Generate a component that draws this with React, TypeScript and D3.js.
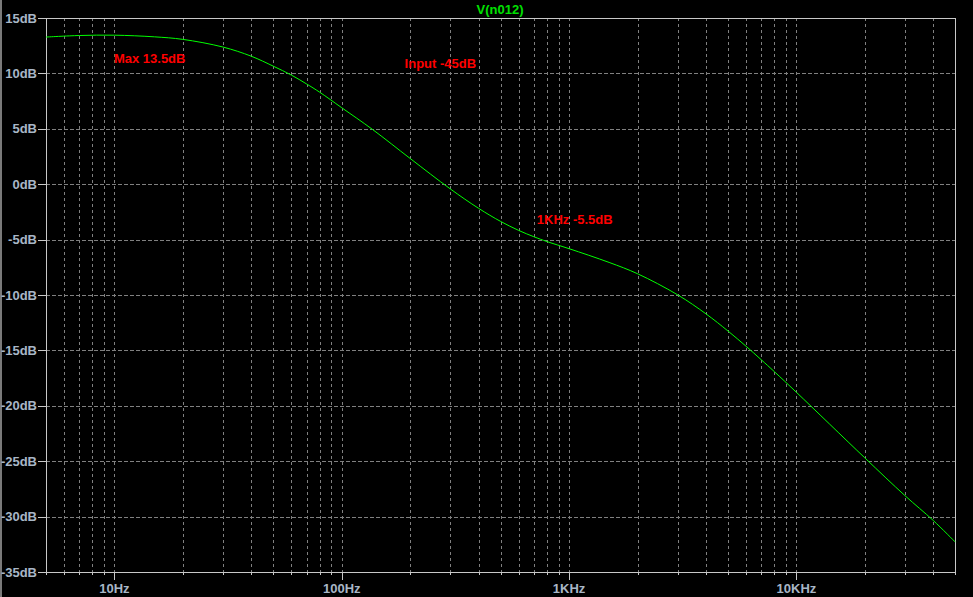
import React from "react";
import * as d3 from "d3";

const freqs = [5, 7, 10, 15, 20, 30, 40, 50, 60, 70, 80, 100, 137, 200, 300, 400, 500, 600, 700, 800, 1000, 1500, 2000, 3000, 4000, 5000, 6000, 7000, 8000, 10000, 20000, 30000, 40000, 50000];
const gainDb = [13.28, 13.42, 13.45, 13.3, 13.07, 12.38, 11.55, 10.65, 9.85, 9.05, 8.3, 6.9, 4.92, 2.32, -0.42, -2.18, -3.36, -4.17, -4.74, -5.18, -5.82, -7.06, -8.08, -9.98, -11.7, -13.25, -14.62, -15.84, -16.92, -18.78, -24.7, -28.1, -30.35, -32.3];

const yTicks = [15, 10, 5, 0, -5, -10, -15, -20, -25, -30, -35];
const yTickLabels = ["15dB", "10dB", "5dB", "0dB", "-5dB", "-10dB", "-15dB", "-20dB", "-25dB", "-30dB", "-35dB"];
const xMajor = [10, 100, 1000, 10000];
const xMajorLabels = ["10Hz", "100Hz", "1KHz", "10KHz"];

const title = "V(n012)";
const annotations = [
  { text: "Max 13.5dB", f: 9.95, db: 10.94 },
  { text: "Input -45dB", f: 189, db: 10.45 },
  { text: "1KHz -5.5dB", f: 721, db: -3.6 },
];

const W = 973;
const H = 597;
const left = 46;
const right = 955.3;
const top = 18;
const bottom = 572;

export default function App() {
  const x = d3.scaleLog().domain([5, 50000]).range([left, right]);
  const y = d3.scaleLinear().domain([-35, 15]).range([bottom, top]);

  const minor: number[] = [];
  for (let dec = 1; dec <= 10000; dec *= 10) {
    for (let m = 2; m <= 9; m++) {
      const v = m * dec;
      if (v >= 5 && v <= 50000) minor.push(v);
    }
  }
  const gridX = minor.concat(xMajor).filter((v) => v > 5 && v < 50000);

  const line = d3
    .line<number>()
    .x((_, i) => x(freqs[i]))
    .y((d) => y(d))
    .curve(d3.curveCatmullRom.alpha(0.5));

  const font = "'Liberation Sans', Arial, sans-serif";
  const labelColor = "#a8b6c6";
  const frameColor = "#c8c8c8";
  const gridColor = "#808080";

  return (
    <svg
      width={W}
      height={H}
      style={{ position: "absolute", left: 0, top: 0, background: "#000" }}
    >
      <rect x={0} y={0} width={W} height={H} fill="#000" />
      <rect x={0} y={0} width={2} height={H} fill="#7a7a7a" />
      {/* grid */}
      {gridX.map((v, i) => (
        <line
          key={"gx" + i}
          x1={Math.round(x(v)) + 0.5}
          x2={Math.round(x(v)) + 0.5}
          y1={top}
          y2={bottom}
          stroke={gridColor}
          strokeDasharray="3,3"
          shapeRendering="crispEdges"
        />
      ))}
      {yTicks
        .filter((v) => v !== 15 && v !== -35)
        .map((v, i) => (
          <line
            key={"gy" + i}
            x1={left}
            x2={right}
            y1={Math.round(y(v)) + 0.5}
            y2={Math.round(y(v)) + 0.5}
            stroke={gridColor}
            strokeDasharray="4,2"
            shapeRendering="crispEdges"
          />
        ))}
      {/* frame */}
      <rect
        x={left + 0.5}
        y={top + 0.5}
        width={right - left}
        height={bottom - top}
        fill="none"
        stroke={frameColor}
        shapeRendering="crispEdges"
      />
      {/* y ticks */}
      {yTicks.map((v, i) => (
        <g key={"yt" + i}>
          <line
            x1={left - 8}
            x2={left}
            y1={Math.round(y(v)) + 0.5}
            y2={Math.round(y(v)) + 0.5}
            stroke={frameColor}
            shapeRendering="crispEdges"
          />
          <text
            x={37}
            y={y(v) + 4.6}
            textAnchor="end"
            fill={labelColor}
            fontFamily={font}
            fontWeight="bold"
            fontSize={13}
          >
            {yTickLabels[i]}
          </text>
        </g>
      ))}
      {/* x ticks */}
      {minor.map((v, i) => (
        <line
          key={"xm" + i}
          x1={Math.round(x(v)) + 0.5}
          x2={Math.round(x(v)) + 0.5}
          y1={bottom}
          y2={bottom + 3}
          stroke={frameColor}
          shapeRendering="crispEdges"
        />
      ))}
      {xMajor.map((v, i) => (
        <g key={"xM" + i}>
          <line
            x1={Math.round(x(v)) + 0.5}
            x2={Math.round(x(v)) + 0.5}
            y1={bottom}
            y2={bottom + 8}
            stroke={frameColor}
            shapeRendering="crispEdges"
          />
          <text
            x={x(v)}
            y={593}
            textAnchor="middle"
            fill={labelColor}
            fontFamily={font}
            fontWeight="bold"
            fontSize={13}
          >
            {xMajorLabels[i]}
          </text>
        </g>
      ))}
      {/* curve */}
      <path
        d={line(gainDb) || ""}
        fill="none"
        stroke="#00ff00"
        strokeWidth={1}
      />
      {/* title */}
      <text
        x={500}
        y={13.5}
        textAnchor="middle"
        fill="#00e000"
        fontFamily={font}
        fontWeight="bold"
        fontSize={13}
      >
        {title}
      </text>
      {annotations.map((a, i) => (
        <text
          key={"an" + i}
          x={x(a.f)}
          y={y(a.db)}
          fill="#ff0000"
          fontFamily={font}
          fontWeight="bold"
          fontSize={13}
        >
          {a.text}
        </text>
      ))}
    </svg>
  );
}
